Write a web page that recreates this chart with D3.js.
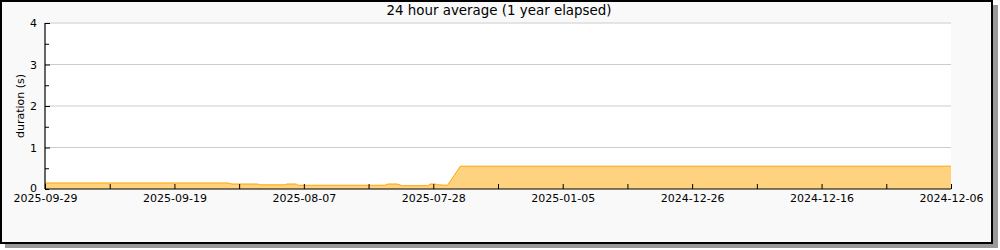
<!DOCTYPE html>
<html>
<head>
<meta charset="utf-8">
<script src="https://cdn.jsdelivr.net/npm/d3@7"></script>
<style>
  body { margin: 0; background: #fff; }
  svg text { font-family: "DejaVu Sans", sans-serif; fill: #000; }
</style>
</head>
<body>
<svg id="chart" width="1000" height="250"></svg>
<script>
// x positions are in axis-step units (one step per tick, labels every second tick)
var tickLabels = ["2025-09-29", "2025-09-19", "2025-08-07", "2025-07-28",
                  "2025-01-05", "2024-12-26", "2024-12-16", "2024-12-06"];
var pointPos = [0, 2.83, 2.89, 3.29, 3.32, 3.71, 3.74, 3.88, 3.91, 5.25, 5.30, 5.44,
                5.52, 5.92, 5.95, 6.03, 6.07, 6.22, 6.42, 14];
var durations = [0.145, 0.145, 0.12, 0.12, 0.10, 0.10, 0.12, 0.12, 0.09, 0.09, 0.12, 0.12,
                 0.08, 0.08, 0.12, 0.12, 0.10, 0.09, 0.55, 0.55];
var yTicks = [0, 1, 2, 3, 4];

var svg = d3.select("#chart");
var margin = { top: 23, left: 45, right: 49, bottom: 61 };
var width = 1000, height = 250;
var chartW = width - margin.left - margin.right;
var chartH = height - margin.top - margin.bottom;

// frame with shadow
svg.append("rect").attr("x", 5).attr("y", 5).attr("width", 993).attr("height", 243).attr("fill", "#999");
svg.append("rect").attr("x", 1).attr("y", 1).attr("width", 991).attr("height", 242)
    .attr("fill", "#f9f9f9").attr("stroke", "#000").attr("stroke-width", 2);

var x = d3.scaleLinear().domain([0, 14]).range([0, chartW]);
var y = d3.scaleLinear().domain([0, 4]).range([chartH, 0]);

var g = svg.append("g").attr("transform", `translate(${[margin.left, margin.top]})`);

g.append("rect").attr("width", chartW).attr("height", chartH).attr("fill", "#fff");

// grid lines
g.selectAll(".grid").data(yTicks.slice(1)).enter().append("line")
    .attr("x1", 0).attr("x2", chartW)
    .attr("y1", function (d) { return y(d); }).attr("y2", function (d) { return y(d); })
    .attr("stroke", "#ccc").attr("stroke-width", 1);

var pts = pointPos.map(function (p, i) { return { p: p, v: durations[i] }; });

g.append("path").datum(pts)
    .attr("fill", "#ffd27f")
    .attr("d", d3.area().x(function (d) { return x(d.p); }).y0(y(0)).y1(function (d) { return y(d.v); }));
g.append("path").datum(pts)
    .attr("fill", "none").attr("stroke", "#ffa500").attr("stroke-width", 1)
    .attr("d", d3.line().x(function (d) { return x(d.p); }).y(function (d) { return y(d.v); }));

// y axis
var yAxis = g.append("g")
    .call(d3.axisLeft(y).tickValues(d3.range(0, 4.01, 0.5)).tickSize(-4)
        .tickFormat(function (d) { return d % 1 === 0 ? d : ""; }));
yAxis.select(".domain").attr("d", `M0,${chartH}V0`).attr("stroke-width", 1.2);
yAxis.selectAll(".tick text").attr("x", -8).attr("font-size", 11);
yAxis.selectAll(".tick").filter(function (d) { return d === 0; }).select("text").attr("dy", "0.2em");
yAxis.selectAll(".tick").filter(function (d) { return d % 1 === 0 && d > 0; }).select("line").attr("x2", 5);

// x axis
var xAxis = g.append("g").attr("transform", `translate(0,${chartH})`)
    .call(d3.axisBottom(x).tickValues(d3.range(0, 15)).tickSize(-5)
        .tickFormat(function (d) { return d % 2 === 0 ? tickLabels[d / 2] : ""; }));
xAxis.select(".domain").attr("d", `M0,0H${chartW}`).attr("stroke-width", 1.2);
xAxis.selectAll(".tick text").attr("y", 5).attr("font-size", 11);

// titles
svg.append("text").attr("x", 499).attr("y", 15).attr("text-anchor", "middle")
    .attr("font-size", 13.4).text("24 hour average (1 year elapsed)");
svg.append("text").attr("transform", "translate(24,106) rotate(-90)")
    .attr("text-anchor", "middle").attr("font-size", 11).text("duration (s)");
</script>
</body>
</html>
